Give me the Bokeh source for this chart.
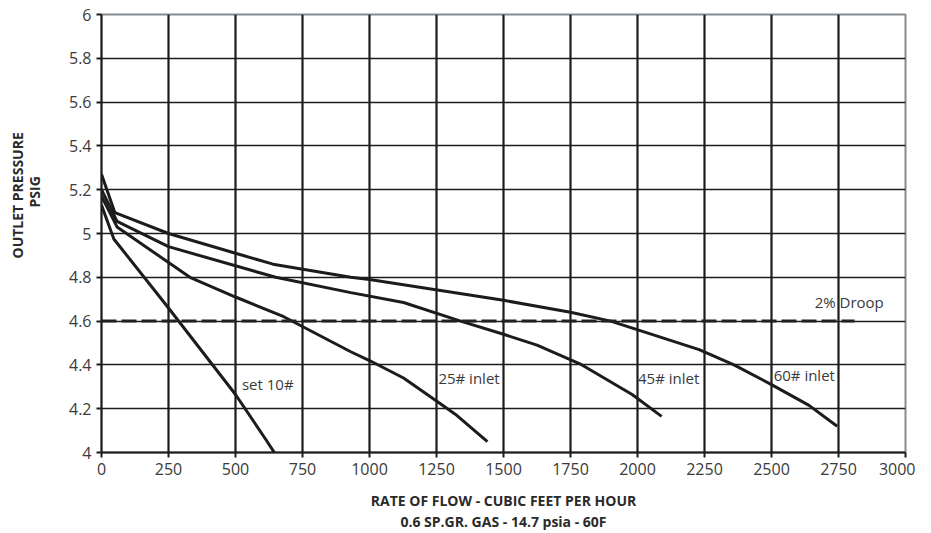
from bokeh.plotting import figure
from bokeh.models import Label, FixedTicker, Range1d, Title
from bokeh.embed import file_html
from bokeh.resources import INLINE

# ---- data ----
x_ticks = [0, 250, 500, 750, 1000, 1250, 1500, 1750, 2000, 2250, 2500, 2750, 3000]
y_ticks = [4.0, 4.2, 4.4, 4.6, 4.8, 5.0, 5.2, 5.4, 5.6, 5.8, 6.0]
y_tick_labels = ["4", "4.2", "4.4", "4.6", "4.8", "5", "5.2", "5.4", "5.6", "5.8", "6"]

set10_x = [0, 46, 250, 500, 610, 645]
set10_y = [5.13, 4.975, 4.66, 4.265, 4.065, 4.0]

in25_x = [0, 58, 330, 500, 680, 930, 1000, 1127, 1250, 1320, 1440]
in25_y = [5.17, 5.03, 4.80, 4.71, 4.62, 4.46, 4.42, 4.34, 4.235, 4.175, 4.05]

in45_x = [0, 58, 250, 650, 930, 1127, 1340, 1500, 1625, 1785, 1980, 2090]
in45_y = [5.2, 5.055, 4.94, 4.80, 4.73, 4.685, 4.60, 4.54, 4.49, 4.405, 4.265, 4.165]

in60_x = [0, 50, 250, 500, 640, 930, 1000, 1500, 1750, 1900, 2230, 2360, 2500, 2640, 2745]
in60_y = [5.27, 5.095, 5.0, 4.91, 4.86, 4.80, 4.79, 4.695, 4.64, 4.60, 4.47, 4.40, 4.31, 4.215, 4.12]

droop_x = [0, 2810]
droop_y = [4.6, 4.6]

curve_labels = ["set 10#", "25# inlet", "45# inlet", "60# inlet", "2% Droop"]
label_x = [524, 1257, 2002, 2508, 2661]
label_y = [4.315, 4.338, 4.342, 4.353, 4.685]

x_title = ["RATE OF FLOW - CUBIC FEET PER HOUR", "0.6 SP.GR. GAS - 14.7 psia - 60F"]
y_title = ["OUTLET PRESSURE", "PSIG"]

FONT = "Open Sans"
INK = "#1c1c1c"
TXT = "#3a3a3a"
TITLE_C = "#2a2a2a"

p = figure(width=915, height=533, output_backend="svg", toolbar_location=None,
           x_range=Range1d(0, 3000), y_range=Range1d(4, 6),
           min_border_left=101, min_border_right=10, min_border_top=14, min_border_bottom=81)

p.background_fill_color = "white"
p.border_fill_color = "white"
p.outline_line_color = "#858c92"
p.outline_line_width = 2

p.xaxis.ticker = FixedTicker(ticks=x_ticks)
p.yaxis.ticker = FixedTicker(ticks=y_ticks)
p.yaxis.major_label_overrides = {t: s for t, s in zip(y_ticks, y_tick_labels)}

for ax in (p.xaxis, p.yaxis):
    ax.axis_line_color = INK
    ax.axis_line_width = 2
    ax.major_tick_line_color = INK
    ax.major_tick_line_width = 2
    ax.major_tick_out = 5
    ax.major_tick_in = 0
    ax.minor_tick_line_color = None
    ax.major_label_text_font = FONT
    ax.major_label_text_font_size = "16px"
    ax.major_label_text_color = TXT
    ax.major_label_standoff = 5

p.xgrid.ticker = FixedTicker(ticks=x_ticks)
p.ygrid.ticker = FixedTicker(ticks=y_ticks)
p.xgrid.grid_line_color = INK
p.xgrid.grid_line_width = 2.2
p.ygrid.grid_line_color = INK
p.ygrid.grid_line_width = 1.4

lw = 3
p.line(set10_x, set10_y, line_color=INK, line_width=lw)
p.line(in25_x, in25_y, line_color=INK, line_width=lw)
p.line(in45_x, in45_y, line_color=INK, line_width=lw)
p.line(in60_x, in60_y, line_color=INK, line_width=lw)
p.line(droop_x, droop_y, line_color="#222222", line_width=3, line_dash="15 5")

for t, x, y in zip(curve_labels, label_x, label_y):
    p.add_layout(Label(x=x, y=y, text=t, text_font=FONT, text_font_size="15px",
                       text_color=TXT, text_baseline="middle", text_align="left"))

# axis titles as side-panel titles
def mk_title(text, standoff, align="center", offset=0, valign="bottom"):
    return Title(text=text, align=align, offset=offset, standoff=standoff,
                 vertical_align=valign,
                 text_font=FONT, text_font_size="14px", text_font_style="bold",
                 text_color=TITLE_C)

p.add_layout(mk_title(x_title[0], 22), "below")
p.add_layout(mk_title(x_title[1], -21), "below")
p.add_layout(mk_title(y_title[1], 43, "left", 245), "left")
p.add_layout(mk_title(y_title[0], -50, "left", 194), "left")

open("out.html", "w").write(file_html(p, INLINE))
